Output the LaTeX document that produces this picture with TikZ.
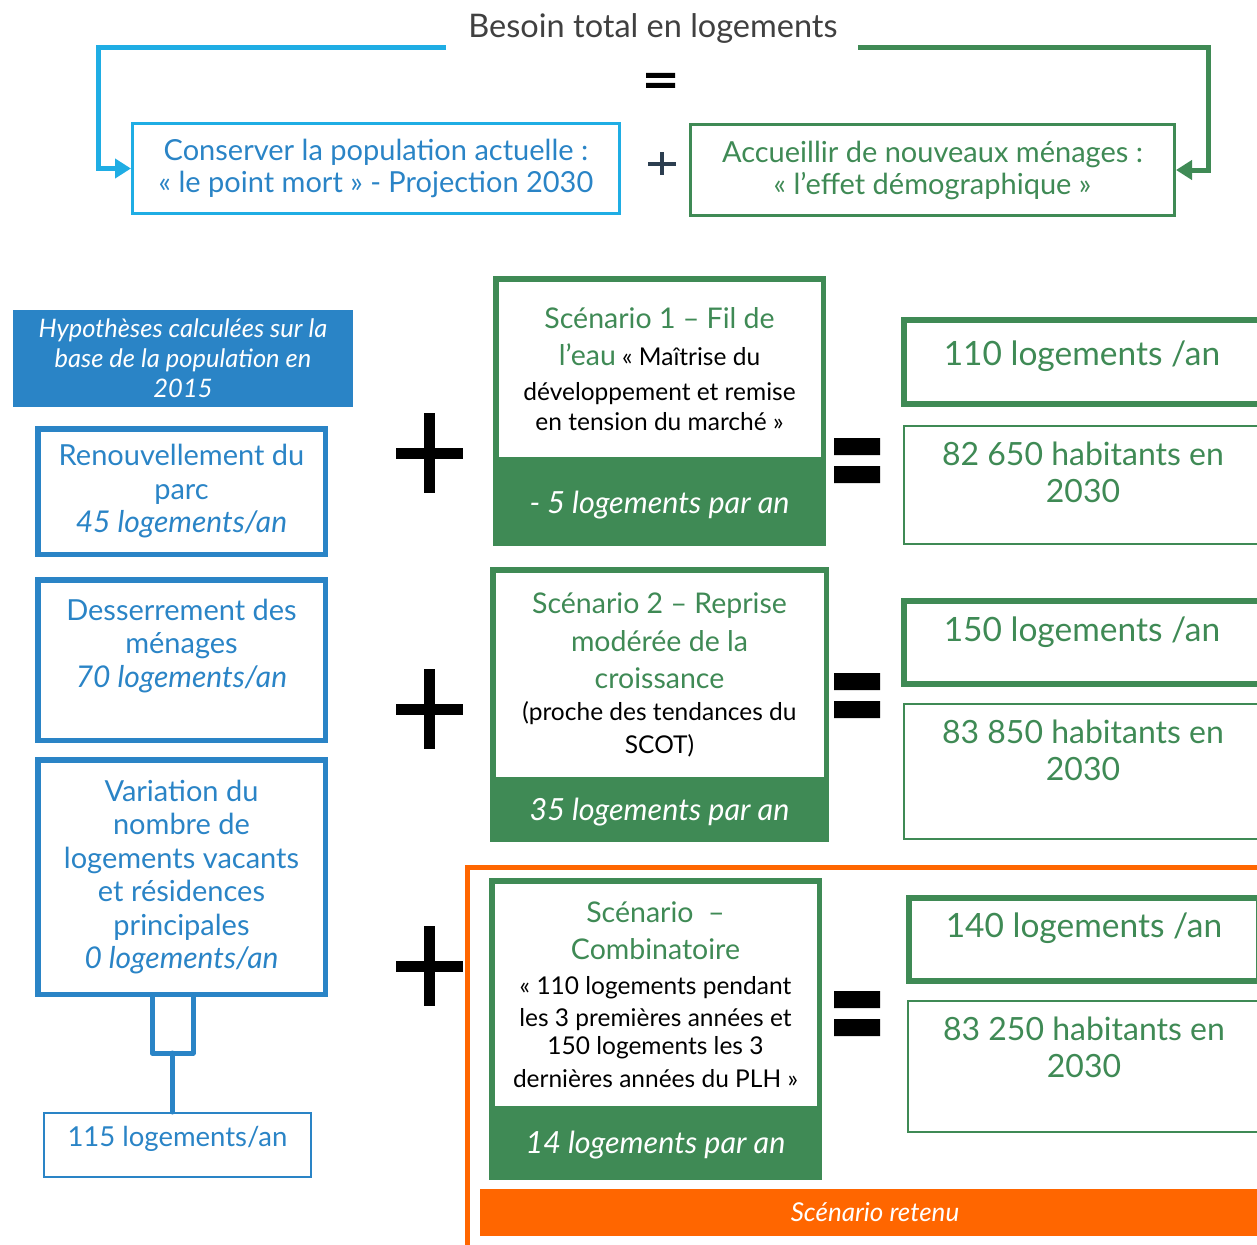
\documentclass[tikz,border=0pt]{standalone}
\usepackage{fontspec}
\setmainfont{Lato}
\usetikzlibrary{positioning,arrows.meta}

\definecolor{titlegray}{HTML}{404040}
\definecolor{cyanline}{HTML}{1FADE4}
\definecolor{midblue}{HTML}{2A84C6}
\definecolor{scgreen}{HTML}{3F8A55}
\definecolor{plusslate}{HTML}{2C3E50}
\definecolor{retorange}{HTML}{FF6600}

\newcommand\scntitle{\color{scgreen}\fontsize{28.5}{37}\selectfont}
\newcommand\lgitalic{\fontsize{30}{33.5}\selectfont\itshape}

\begin{document}
\begin{tikzpicture}[x=1pt,y=-1pt,
	headbox/.style={draw, line width=3pt, align=center, inner sep=0pt, font=\fontsize{29}{32}\selectfont},
	arrowline/.style={line width=5pt, -{Triangle[length=16pt,width=19pt]}},
	leftbox/.style={draw=midblue, line width=5.5pt, text=midblue, align=center, inner sep=0pt, minimum width=287.5pt, font=\fontsize{29}{33.5}\selectfont},
	bracketline/.style={midblue, line width=5pt, line join=round, line cap=round},
	plusbar/.style={line width=11pt},
	scenfill/.style={fill=scgreen, inner sep=0pt},
	scentop/.style={fill=white, inner sep=0pt, align=center},
	scenval/.style={text=white, inner sep=0pt, font=\fontsize{30.5}{32}\selectfont\itshape},
	resbox/.style={draw=scgreen, inner sep=0pt, minimum width=356pt},
	restxt/.style={text=scgreen, align=center, inner sep=0pt, font=\fontsize{32}{37}\selectfont}]
\useasboundingbox (0,0) rectangle (1257,1244);
\clip (0,0) rectangle (1257,1244);

% en-tete
\node[anchor=base, text=titlegray, font=\fontsize{32.5}{36}\selectfont] (besoin) at (653,38) {Besoin total en logements};
\fill[black] (646,73) rectangle (675,78) (646,83) rectangle (675,88);
\node[headbox, draw=cyanline, text=midblue, minimum width=487pt, minimum height=90pt] (conserver) at (376,168.5)
	{Conserver la population actuelle :\\« le point mort » - Projection 2030};
\node[headbox, draw=scgreen, text=scgreen, minimum width=484pt, minimum height=91pt] (accueillir) at (932.5,170)
	{Accueillir de nouveaux ménages :\\« l’effet démographique »};
\draw[plusslate, line width=4pt] (648,163.5) -- (676,163.5) (662,152) -- (662,175);
\coordinate (bleft) at (446,48);
\coordinate (gright) at (858,48);
\draw[cyanline, arrowline] (bleft) -| ([xshift=-33pt]conserver.west) -- (conserver.west);
\draw[scgreen, arrowline] (gright) -| ([xshift=32pt]accueillir.east) -- (accueillir.east);

% colonne de gauche
\node[fill=midblue, minimum width=340pt, minimum height=97pt, inner sep=0pt, text=white, align=center,
	font=\fontsize{25.5}{30}\selectfont\itshape] (hypo) at (183,358.5)
	{Hypothèses calculées sur la\\base de la population en\\2015};
\node[leftbox, minimum height=125.5pt] (renouv) at (181.5,491.5)
	{Renouvellement du\\parc\\{\lgitalic 45 logements/an}};
\node[leftbox, minimum height=160.5pt] (desserr) at (181.5,660)
	{Desserrement des\\ménages\\{\lgitalic 70 logements/an}\\\mbox{}};
\node[leftbox, minimum height=234.5pt] (variation) at (181.5,877)
	{Variation du\\nombre de\\logements vacants\\et résidences\\principales\\{\lgitalic 0 logements/an}};
\node[draw=midblue, line width=2pt, minimum width=267pt, minimum height=64pt, inner sep=0pt] (total) at (177.5,1145) {};
\node[anchor=base, text=midblue, inner sep=0pt, font=\fontsize{27.5}{32}\selectfont] (totaltxt) at ([yshift=-34pt]total.north) {115 logements/an};
\coordinate (armL) at (152,1053);
\coordinate (armR) at (193,1053);
\coordinate (stemtop) at (172,1053);
\draw[bracketline] (armL |- variation.south) -- (armL) -- (armR) -- (armR |- variation.south);
\draw[bracketline] (stemtop) -- (stemtop |- total.north);

\foreach \py in {453,709,966}
{
	\draw[plusbar] (396,\py) -- (463,\py) (429.5,\py-40) -- (429.5,\py+40);
}

% scenarios
\node[scenfill, minimum width=333pt, minimum height=270pt] (s1) at (659.5,411) {};
\node[scentop, minimum width=322pt, minimum height=175pt, font=\fontsize{24.5}{35}\selectfont] (s1top) at (659.5,369.5)
	{{\scntitle Scénario 1 – Fil de}\\[2pt]{\scntitle l’eau} « Maîtrise du\\développement et remise\\[-5pt]en tension du marché »};
\node[scenval, anchor=base] (s1val) at ([yshift=33pt]s1.south) {- 5 logements par an};

\node[scenfill, minimum width=339pt, minimum height=275pt] (s2) at (659.5,704.5) {};
\node[scentop, minimum width=328pt, minimum height=204.5pt, font=\fontsize{24.5}{33}\selectfont] (s2top) at (659.5,674.75)
	{{\scntitle Scénario 2 – Reprise}\\[5pt]{\scntitle modérée de la}\\[4pt]{\scntitle croissance}\\[-1pt](proche des tendances du\\SCOT)};
\node[scenval, anchor=base] (s2val) at ([yshift=22pt]s2.south) {35 logements par an};

\node[scenfill, minimum width=333pt, minimum height=302pt] (s3) at (655.5,1029) {};
\node[scentop, minimum width=322pt, minimum height=222.5pt, font=\fontsize{24.5}{32}\selectfont] (s3top) at (655.5,994.75)
	{{\scntitle Scénario\ \ –}\\[5pt]{\scntitle Combinatoire}\\[3pt]« 110 logements pendant\\les 3 premières années et\\[-4pt]150 logements les 3\\[1pt]dernières années du PLH »};
\node[scenval, anchor=base] (s3val) at ([yshift=27pt]s3.south) {14 logements par an};

\foreach \ey in {438,673,991}
{
	\fill (834,\ey) rectangle (880,\ey+17) (834,\ey+28) rectangle (880,\ey+45);
}

% resultats
\node[resbox, line width=6pt, minimum height=84pt] (r1a) at (1082,362) {};
\node[restxt, anchor=base, font=\fontsize{33.5}{37}\selectfont] (t1a) at ([yshift=-48pt]r1a.north) {110 logements /an};
\node[resbox, line width=2pt, minimum width=358pt, minimum height=118pt] (r1b) at (1083,485) {};
\node[restxt, anchor=north] (t1b) at ([yshift=-17pt]r1b.north) {82 650 habitants en\\2030};

\node[resbox, line width=6pt, minimum height=83pt] (r2a) at (1082,642.5) {};
\node[restxt, anchor=base, font=\fontsize{33.5}{37}\selectfont] (t2a) at ([yshift=-43pt]r2a.north) {150 logements /an};
\node[resbox, line width=2pt, minimum width=358pt, minimum height=135pt] (r2b) at (1083,771.5) {};
\node[restxt, anchor=north] (t2b) at ([yshift=-17pt]r2b.north) {83 850 habitants en\\2030};

\node[resbox, line width=6pt, minimum width=350pt, minimum height=83pt] (r3a) at (1084,939.5) {};
\node[restxt, anchor=base, font=\fontsize{33.5}{37}\selectfont] (t3a) at ([yshift=-42pt]r3a.north) {140 logements /an};
\node[resbox, line width=2pt, minimum width=352pt, minimum height=131pt] (r3b) at (1084,1066.5) {};
\node[restxt, anchor=north] (t3b) at ([yshift=-17pt]r3b.north) {83 250 habitants en\\2030};

% scenario retenu
\coordinate (frameBL) at (467,1250);
\coordinate (frameTR) at (1265,867);
\draw[retorange, line width=5pt] (frameBL) |- (frameTR);
\node[fill=retorange, minimum width=790pt, minimum height=47pt, inner sep=0pt, text=white,
	font=\fontsize{26}{28}\selectfont\itshape] (retenu) at (875,1212.5) {Scénario retenu};
\end{tikzpicture}
\end{document}
